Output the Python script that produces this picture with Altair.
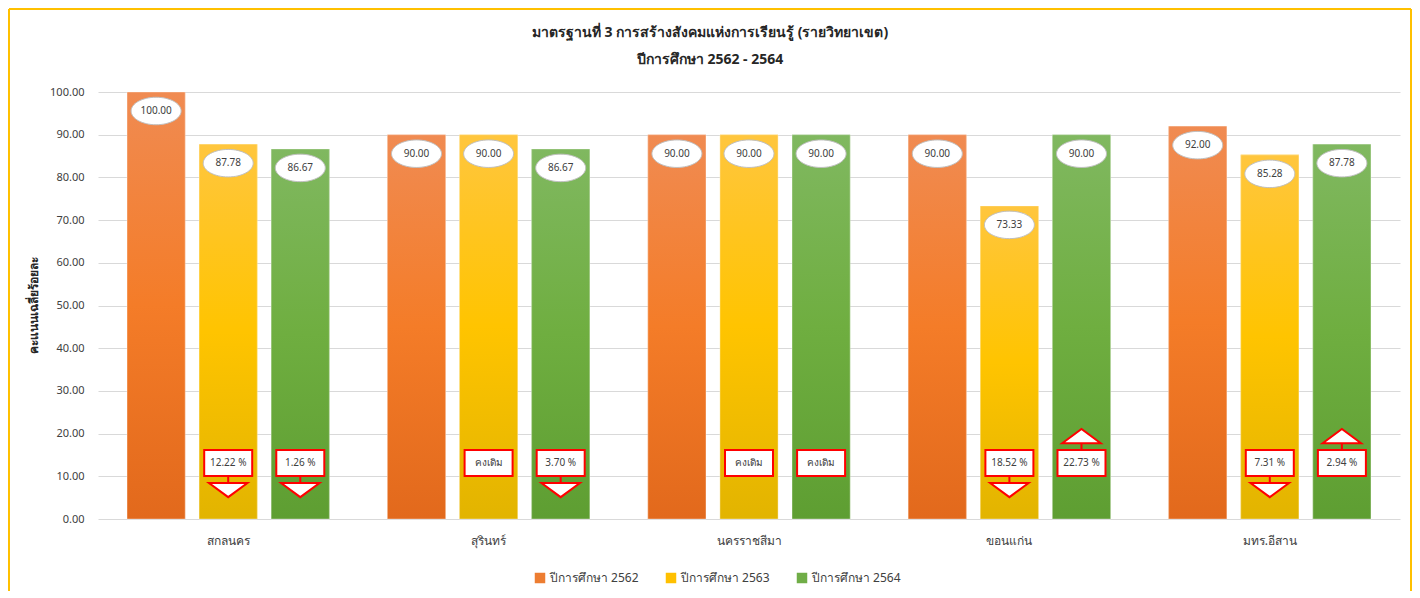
import altair as alt
import pandas as pd

# ---------------- data ----------------
regions = ["สกลนคร", "สุรินทร์", "นครราชสีมา", "ขอนแก่น", "มทร.อีสาน"]
series = ["ปีการศึกษา 2562", "ปีการศึกษา 2563", "ปีการศึกษา 2564"]
y2562 = [100.00, 90.00, 90.00, 90.00, 92.00]
y2563 = [87.78, 90.00, 90.00, 73.33, 85.28]
y2564 = [86.67, 86.67, 90.00, 90.00, 87.78]

chg2563 = ["12.22 %", "คงเดิม", "คงเดิม", "18.52 %", "7.31 %"]
dir2563 = ["down", "same", "same", "down", "down"]
chg2564 = ["1.26 %", "3.70 %", "คงเดิม", "22.73 %", "2.94 %"]
dir2564 = ["down", "down", "same", "up", "up"]

solid = ["#ED7D31", "#FFC000", "#70AD47"]
grad_stops = [
    ["#F08B52", "#F47C28", "#E2691C"],
    ["#FFC63E", "#FFC400", "#E2B400"],
    ["#80B860", "#6FAE40", "#5E9E32"],
]

FONT = "Noto Sans"

rows = []
for vals, s in zip([y2562, y2563, y2564], series):
    for r, v in zip(regions, vals):
        rows.append({"region": r, "series": s, "value": v, "lbl": f"{v:.2f}"})
df = pd.DataFrame(rows)

arows = []
for labs, dirs, s in [(chg2563, dir2563, series[1]), (chg2564, dir2564, series[2])]:
    for r, l, d in zip(regions, labs, dirs):
        arows.append({"region": r, "series": s, "chg": l, "dir": d})
adf = pd.DataFrame(arows)

W, H = 1302, 427

x_enc = alt.X("region:N", sort=regions,
              scale=alt.Scale(paddingInner=0, paddingOuter=0),
              axis=alt.Axis(title=None, labelAngle=0, ticks=False, domain=False,
                            labelFontSize=12, labelColor="#404040", labelPadding=16,
                            labelFont=FONT, grid=False))
xo_enc = alt.XOffset("series:N", sort=series,
                     scale=alt.Scale(paddingInner=0.194, paddingOuter=0.403))
y_enc = alt.Y("value:Q", scale=alt.Scale(domain=[0, 100]),
              axis=alt.Axis(values=list(range(0, 101, 10)), format=".2f",
                            title="คะแนนเฉลี่ยร้อยละ", titleFontSize=12,
                            titleFontWeight="bold", titleColor="#262626",
                            titleFont=FONT, titleAngle=270, titleX=-65, titleY=213,
                            titleAlign="center", titleBaseline="middle",
                            labelFontSize=11, labelColor="#404040", labelFont=FONT,
                            labelPadding=14, ticks=False, domain=False,
                            gridColor="#D9D9D9", gridWidth=1))

base_bars = alt.Chart(df).mark_bar().encode(
    x=x_enc, xOffset=xo_enc, y=y_enc,
    color=alt.Color("series:N", sort=series,
                    scale=alt.Scale(domain=series, range=solid),
                    legend=alt.Legend(title=None, orient="none", direction="horizontal",
                                      legendX=436, legendY=480, symbolType="square",
                                      symbolSize=110, symbolStrokeWidth=0,
                                      labelFontSize=12, labelColor="#404040",
                                      labelFont=FONT, columnPadding=26)),
)

grad_layers = []
for s, st in zip(series, grad_stops):
    g = alt.Gradient(gradient="linear", x1=0, x2=0, y1=0, y2=1,
                     stops=[alt.GradientStop(color=st[0], offset=0),
                            alt.GradientStop(color=st[1], offset=0.5),
                            alt.GradientStop(color=st[2], offset=1)])
    grad_layers.append(
        alt.Chart(df).transform_filter(alt.datum.series == s)
        .mark_bar(color=g, stroke="#FFFFFF", strokeOpacity=0.35, strokeWidth=1)
        .encode(x=x_enc, xOffset=xo_enc, y=y_enc)
    )

ellipse = "M-1,0 A1,0.55 0 1,1 1,0 A1,0.55 0 1,1 -1,0 Z"
ell = alt.Chart(df).mark_point(shape=ellipse, size=2500, filled=True, fill="white",
                               stroke="#BFBFBF", strokeWidth=1, opacity=1,
                               yOffset=19).encode(x=x_enc, xOffset=xo_enc, y=y_enc)
ell_txt = alt.Chart(df).mark_text(fontSize=10, color="#404040", font=FONT,
                                  yOffset=19).encode(
    x=x_enc, xOffset=xo_enc, y=y_enc, text="lbl:N")

box = "M-1,-0.54 H1 V0.54 H-1 Z"
down = box + " M0,0.54 V0.83 M-0.8,0.83 H0.8 L0,1.42 Z"
up = box + " M0,-0.54 V-0.83 M-0.8,-0.83 H0.8 L0,-1.42 Z"

ANN_Y = 13.1
ann = alt.Chart(adf).mark_point(filled=True, fill="white", stroke="#FF0000",
                                strokeWidth=2, opacity=1, size=2304).encode(
    x=x_enc, xOffset=xo_enc, y=alt.datum(ANN_Y),
    shape=alt.Shape("dir:N", scale=alt.Scale(domain=["down", "up", "same"],
                                             range=[down, up, box]), legend=None))
ann_txt = alt.Chart(adf).mark_text(fontSize=10, color="#404040", font=FONT).encode(
    x=x_enc, xOffset=xo_enc, y=alt.datum(ANN_Y), text="chg:N")

one = pd.DataFrame({"a": [0]})
fc = "#FFC000"
frame_l = alt.Chart(one).mark_rule(color=fc, strokeWidth=2).encode(
    x=alt.value(-89), y=alt.value(-83), y2=alt.value(499))
frame_t = alt.Chart(one).mark_rule(color=fc, strokeWidth=2).encode(
    x=alt.value(-89), x2=alt.value(1313), y=alt.value(-83))
frame_r = alt.Chart(one).mark_rule(color=fc, strokeWidth=2).encode(
    x=alt.value(1313), y=alt.value(-83), y2=alt.value(499))

chart = alt.layer(
    base_bars, *grad_layers, ell, ell_txt, ann, ann_txt, frame_l, frame_t, frame_r
).properties(
    width=W, height=H,
    padding={"left": 0, "top": 0, "right": 0, "bottom": 0},
    title=alt.Title(text=["มาตรฐานที่ 3 การสร้างสังคมแห่งการเรียนรู้ (รายวิทยาเขต)",
                          "ปีการศึกษา 2562 - 2564"],
                    fontSize=14, fontWeight="bold", color="#262626", font=FONT,
                    lineHeight=27, anchor="middle", frame="bounds", offset=-59),
).configure(background="white",
            view=alt.ViewConfig(stroke="transparent", strokeWidth=0))

chart.save("out.html", embed_options={"renderer": "svg", "actions": False})
